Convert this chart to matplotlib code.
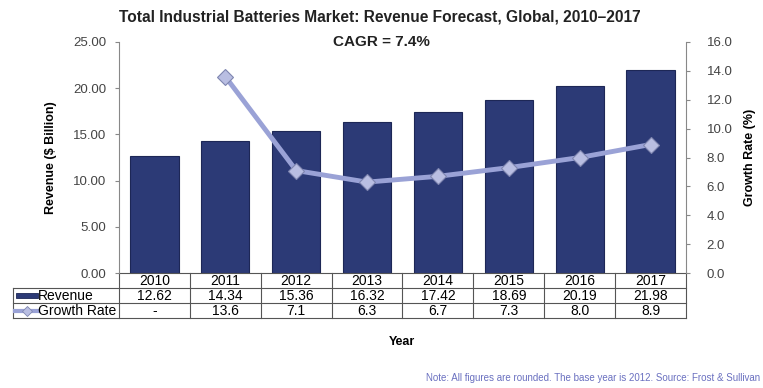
import numpy as np
import matplotlib.pyplot as plt
from matplotlib.lines import Line2D
from matplotlib.patches import Rectangle
from matplotlib.transforms import blended_transform_factory

plt.rcParams['font.family'] = ['Liberation Sans', 'DejaVu Sans']

years = ['2010', '2011', '2012', '2013', '2014', '2015', '2016', '2017']
revenue = [12.62, 14.34, 15.36, 16.32, 17.42, 18.69, 20.19, 21.98]
growth = [None, 13.6, 7.1, 6.3, 6.7, 7.3, 8.0, 8.9]

rev_txt = ['%.2f' % v for v in revenue]
gr_txt = ['-' if g is None else '%.1f' % g for g in growth]

bar_col = '#2c3a76'
line_col = '#9aa2d6'
grid_col = '#555555'

fig = plt.figure(figsize=(7.63, 3.88), dpi=100)
fig.set_facecolor('white')
ax = fig.add_axes([0.156, 0.296, 0.743, 0.596])

x = np.arange(len(years))
ax.bar(x, revenue, width=0.68, color=bar_col, edgecolor='#1d2756', linewidth=0.8, zorder=2)
ax.set_xlim(-0.5, len(years) - 0.5)
ax.set_ylim(0, 25)
ax.set_yticks(np.arange(0, 26, 5))
ax.set_yticklabels(['%.2f' % t for t in np.arange(0, 26, 5)])
ax.set_xticks([])
for s in ['top', 'right', 'bottom']:
    ax.spines[s].set_visible(False)
ax.spines['left'].set_color('#888888')
ax.tick_params(axis='y', colors='#444444', labelsize=9.5, length=3, color='#888888', pad=6)
ax.set_ylabel('Revenue ($ Billion)', fontsize=9, fontweight='bold', labelpad=12)

# growth rate on the right axis
ax2 = ax.twinx()
gx = [i for i, g in enumerate(growth) if g is not None]
gy = [g for g in growth if g is not None]
ax2.plot(gx, gy, color=line_col, lw=3.5, marker='D', ms=8,
         mfc='#b9bee2', mec='#7f86b0', mew=0.8, zorder=3)
ax2.set_ylim(0, 16)
ax2.set_yticks(np.arange(0, 17, 2))
ax2.set_yticklabels(['%.1f' % t for t in np.arange(0, 17, 2)])
for s in ['top', 'left', 'bottom']:
    ax2.spines[s].set_visible(False)
ax2.spines['right'].set_color('#888888')
ax2.tick_params(axis='y', colors='#444444', labelsize=9.5, length=3, color='#888888', pad=12)
ax2.set_ylabel('Growth Rate (%)', fontsize=9, fontweight='bold', rotation=90, labelpad=8)

# data table under the bars: x in data units, y in axes fraction
tr = blended_transform_factory(ax.transData, ax.transAxes)
row_h = 0.065
lab_left = -0.5 - 1.5
xl, xr = -0.5, len(years) - 0.5

def hline(x0, x1, y):
    ax.add_line(Line2D([x0, x1], [y, y], transform=tr, color=grid_col, lw=0.8, clip_on=False))

def vline(xx, y0, y1):
    ax.add_line(Line2D([xx, xx], [y0, y1], transform=tr, color=grid_col, lw=0.8, clip_on=False))

hline(xl, xr, 0)
hline(lab_left, xr, -row_h)
hline(lab_left, xr, -2 * row_h)
hline(lab_left, xr, -3 * row_h)
vline(lab_left, -row_h, -3 * row_h)
for k in range(len(years) + 1):
    vline(k - 0.5, 0, -3 * row_h)

for i in range(len(years)):
    ax.text(i, -0.5 * row_h, years[i], transform=tr, ha='center', va='center', fontsize=10)
    ax.text(i, -1.5 * row_h, rev_txt[i], transform=tr, ha='center', va='center', fontsize=10)
    ax.text(i, -2.5 * row_h, gr_txt[i], transform=tr, ha='center', va='center', fontsize=10)

ax.text(lab_left + 0.36, -1.5 * row_h, 'Revenue', transform=tr, ha='left', va='center', fontsize=10)
ax.text(lab_left + 0.36, -2.5 * row_h, 'Growth Rate', transform=tr, ha='left', va='center', fontsize=10)

# legend glyphs in the row-label cells
ax.add_patch(Rectangle((lab_left + 0.04, -1.5 * row_h - 0.012), 0.31, 0.024, transform=tr,
                       facecolor=bar_col, edgecolor='#1d2756', lw=0.6, clip_on=False))
ax.add_line(Line2D([lab_left + 0.03, lab_left + 0.36], [-2.5 * row_h, -2.5 * row_h], transform=tr,
                   color=line_col, lw=3, clip_on=False))
ax.add_line(Line2D([lab_left + 0.2], [-2.5 * row_h], transform=tr, marker='D', ms=5,
                   mfc='#b9bee2', mec='#7f86b0', mew=0.6, clip_on=False))

fig.text(0.498, 0.955, 'Total Industrial Batteries Market: Revenue Forecast, Global, 2010\u20132017',
         ha='center', va='center', fontsize=11.2, fontweight='bold', color='#222222')
fig.text(0.5, 0.892, 'CAGR = 7.4%', ha='center', va='center', fontsize=11,
         fontweight='bold', color='#222222')
fig.text(0.527, 0.118, 'Year', ha='center', va='center', fontsize=9, fontweight='bold')
fig.text(0.996, 0.025, 'Note: All figures are rounded. The base year is 2012. Source: Frost & Sullivan',
         ha='right', va='center', fontsize=7, color='#6a70c0')

fig.savefig('out.png', dpi=100)
